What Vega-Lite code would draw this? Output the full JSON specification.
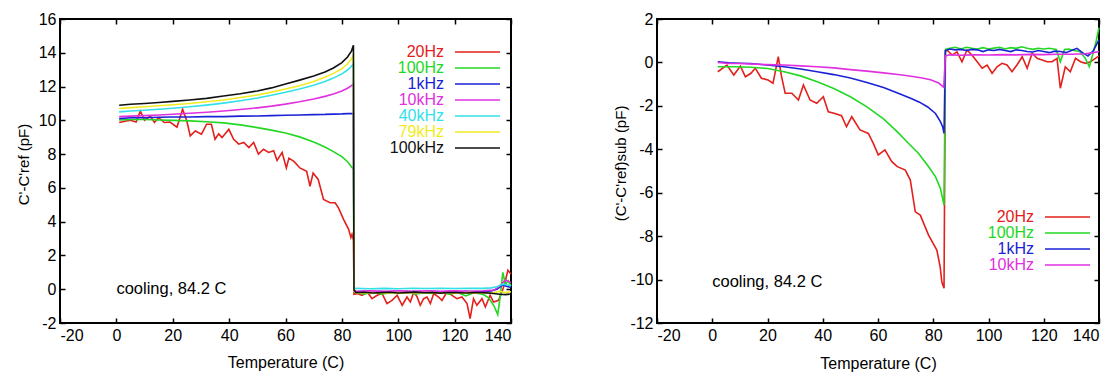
{
"$schema": "https://vega.github.io/schema/vega-lite/v6.json",
"background": "white",
"padding": {"left": 15, "top": 10, "right": 0, "bottom": 0},
"config": {
  "font": "Liberation Sans",
  "view": {"stroke": "black", "strokeWidth": 2},
  "axis": {"grid": false, "domain": false, "tickSize": -5, "tickColor": "black", "tickWidth": 1.5, "labelFont": "Liberation Sans", "labelFontSize": 16, "labelColor": "black", "labelPadding": 9, "labelExpr": "'' + datum.value", "titleFont": "Liberation Sans", "titleFontSize": 16, "titleFontWeight": "normal", "titleColor": "black"},
  "legend": {"orient": "none", "title": null, "symbolType": "M-10,0H10", "symbolSize": 20.25, "symbolStrokeWidth": 1.6, "labelFont": "Liberation Sans", "labelFontSize": 16, "rowPadding": 0, "padding": 0}
},
"datasets": {
"left": [
{"s":"20Hz","T":1,"v":9.87},{"s":"20Hz","T":3,"v":9.95},{"s":"20Hz","T":5,"v":10.0},{"s":"20Hz","T":7,"v":9.9},{"s":"20Hz","T":8.5,"v":10.55},{"s":"20Hz","T":10,"v":10.0},{"s":"20Hz","T":12,"v":10.26},{"s":"20Hz","T":13.5,"v":9.87},{"s":"20Hz","T":15,"v":10.16},{"s":"20Hz","T":17,"v":9.87},{"s":"20Hz","T":19,"v":9.9},{"s":"20Hz","T":21.5,"v":9.6},{"s":"20Hz","T":23.5,"v":10.65},{"s":"20Hz","T":25,"v":9.96},{"s":"20Hz","T":26.2,"v":9.08},{"s":"20Hz","T":28,"v":9.37},{"s":"20Hz","T":30.2,"v":9.18},{"s":"20Hz","T":32,"v":9.77},{"s":"20Hz","T":33.7,"v":9.77},{"s":"20Hz","T":35,"v":8.88},{"s":"20Hz","T":36.3,"v":9.2},{"s":"20Hz","T":37.5,"v":8.98},{"s":"20Hz","T":39.9,"v":9.47},{"s":"20Hz","T":41.6,"v":8.88},{"s":"20Hz","T":43.4,"v":8.59},{"s":"20Hz","T":45.2,"v":8.69},{"s":"20Hz","T":47,"v":8.39},{"s":"20Hz","T":48.7,"v":8.69},{"s":"20Hz","T":50.4,"v":8.0},{"s":"20Hz","T":52.2,"v":8.29},{"s":"20Hz","T":54,"v":8.1},{"s":"20Hz","T":55.8,"v":8.2},{"s":"20Hz","T":57,"v":7.62},{"s":"20Hz","T":58.8,"v":8.1},{"s":"20Hz","T":60.3,"v":7.18},{"s":"20Hz","T":61.2,"v":7.76},{"s":"20Hz","T":63,"v":7.57},{"s":"20Hz","T":65.1,"v":7.18},{"s":"20Hz","T":67.5,"v":6.98},{"s":"20Hz","T":68.7,"v":6.1},{"s":"20Hz","T":69.8,"v":6.88},{"s":"20Hz","T":71.6,"v":6.5},{"s":"20Hz","T":73.5,"v":5.31},{"s":"20Hz","T":75.8,"v":5.12},{"s":"20Hz","T":77.6,"v":5.12},{"s":"20Hz","T":78.8,"v":4.82},{"s":"20Hz","T":80.6,"v":4.14},{"s":"20Hz","T":82.4,"v":3.55},{"s":"20Hz","T":83.2,"v":3.06},{"s":"20Hz","T":83.6,"v":3.25},{"s":"20Hz","T":84.1,"v":2.9},{"s":"20Hz","T":84.3,"v":-0.3},{"s":"20Hz","T":85.4,"v":-0.26},{"s":"20Hz","T":87.2,"v":-0.36},{"s":"20Hz","T":89,"v":-0.16},{"s":"20Hz","T":90.7,"v":-0.56},{"s":"20Hz","T":92.5,"v":-0.36},{"s":"20Hz","T":94.3,"v":-0.26},{"s":"20Hz","T":96,"v":-0.85},{"s":"20Hz","T":97.8,"v":-0.66},{"s":"20Hz","T":99.6,"v":-0.36},{"s":"20Hz","T":101.4,"v":-0.95},{"s":"20Hz","T":103.1,"v":-0.46},{"s":"20Hz","T":104.3,"v":-0.76},{"s":"20Hz","T":105.5,"v":-0.16},{"s":"20Hz","T":106.7,"v":-0.46},{"s":"20Hz","T":107.8,"v":-0.95},{"s":"20Hz","T":109,"v":-0.56},{"s":"20Hz","T":110.2,"v":-0.46},{"s":"20Hz","T":111.4,"v":-0.85},{"s":"20Hz","T":112.6,"v":-0.26},{"s":"20Hz","T":114.3,"v":-0.46},{"s":"20Hz","T":115.5,"v":-0.66},{"s":"20Hz","T":117.3,"v":-0.16},{"s":"20Hz","T":119.1,"v":-0.36},{"s":"20Hz","T":120.8,"v":-0.56},{"s":"20Hz","T":122.6,"v":-0.46},{"s":"20Hz","T":124.4,"v":-0.85},{"s":"20Hz","T":125.5,"v":-1.74},{"s":"20Hz","T":126.7,"v":-0.56},{"s":"20Hz","T":127.9,"v":-0.95},{"s":"20Hz","T":129.7,"v":-0.56},{"s":"20Hz","T":130.9,"v":-1.05},{"s":"20Hz","T":132.6,"v":-0.36},{"s":"20Hz","T":133.8,"v":-0.76},{"s":"20Hz","T":135.6,"v":-0.66},{"s":"20Hz","T":136.8,"v":-0.16},{"s":"20Hz","T":137.9,"v":0.43},{"s":"20Hz","T":138.9,"v":1.12},{"s":"20Hz","T":140,"v":0.9},
{"s":"100Hz","T":1,"v":10.02},{"s":"100Hz","T":5,"v":10.05},{"s":"100Hz","T":10,"v":10.05},{"s":"100Hz","T":15,"v":10.02},{"s":"100Hz","T":20,"v":10.0},{"s":"100Hz","T":26,"v":9.97},{"s":"100Hz","T":32,"v":9.92},{"s":"100Hz","T":38,"v":9.85},{"s":"100Hz","T":44,"v":9.73},{"s":"100Hz","T":50,"v":9.57},{"s":"100Hz","T":55,"v":9.42},{"s":"100Hz","T":60,"v":9.25},{"s":"100Hz","T":65,"v":9.02},{"s":"100Hz","T":70,"v":8.72},{"s":"100Hz","T":74,"v":8.42},{"s":"100Hz","T":77,"v":8.15},{"s":"100Hz","T":80,"v":7.85},{"s":"100Hz","T":82,"v":7.55},{"s":"100Hz","T":83.4,"v":7.25},{"s":"100Hz","T":84.1,"v":7.1},{"s":"100Hz","T":84.3,"v":-0.1},{"s":"100Hz","T":85,"v":-0.2},{"s":"100Hz","T":88,"v":-0.3},{"s":"100Hz","T":91,"v":-0.15},{"s":"100Hz","T":94,"v":-0.3},{"s":"100Hz","T":97,"v":-0.2},{"s":"100Hz","T":100,"v":-0.25},{"s":"100Hz","T":103,"v":-0.1},{"s":"100Hz","T":106,"v":-0.3},{"s":"100Hz","T":109,"v":-0.2},{"s":"100Hz","T":112,"v":-0.25},{"s":"100Hz","T":115,"v":-0.15},{"s":"100Hz","T":118,"v":-0.3},{"s":"100Hz","T":121,"v":-0.2},{"s":"100Hz","T":124,"v":-0.4},{"s":"100Hz","T":127,"v":-0.2},{"s":"100Hz","T":130,"v":-0.3},{"s":"100Hz","T":132,"v":-0.5},{"s":"100Hz","T":134,"v":-1.0},{"s":"100Hz","T":135.3,"v":-1.5},{"s":"100Hz","T":136.2,"v":-0.4},{"s":"100Hz","T":137.1,"v":1.0},{"s":"100Hz","T":138,"v":0.3},{"s":"100Hz","T":139,"v":0.5},{"s":"100Hz","T":140,"v":0.2},
{"s":"1kHz","T":1,"v":10.1},{"s":"1kHz","T":5,"v":10.15},{"s":"1kHz","T":10,"v":10.15},{"s":"1kHz","T":15,"v":10.18},{"s":"1kHz","T":20,"v":10.2},{"s":"1kHz","T":26,"v":10.2},{"s":"1kHz","T":32,"v":10.22},{"s":"1kHz","T":38,"v":10.22},{"s":"1kHz","T":44,"v":10.25},{"s":"1kHz","T":50,"v":10.26},{"s":"1kHz","T":55,"v":10.28},{"s":"1kHz","T":60,"v":10.3},{"s":"1kHz","T":65,"v":10.32},{"s":"1kHz","T":70,"v":10.34},{"s":"1kHz","T":74,"v":10.35},{"s":"1kHz","T":77,"v":10.37},{"s":"1kHz","T":80,"v":10.38},{"s":"1kHz","T":82,"v":10.4},{"s":"1kHz","T":84.1,"v":10.4},{"s":"1kHz","T":84.3,"v":-0.1},{"s":"1kHz","T":85,"v":-0.15},{"s":"1kHz","T":88,"v":-0.12},{"s":"1kHz","T":91,"v":-0.16},{"s":"1kHz","T":94,"v":-0.14},{"s":"1kHz","T":97,"v":-0.15},{"s":"1kHz","T":100,"v":-0.13},{"s":"1kHz","T":103,"v":-0.16},{"s":"1kHz","T":106,"v":-0.14},{"s":"1kHz","T":109,"v":-0.15},{"s":"1kHz","T":112,"v":-0.12},{"s":"1kHz","T":115,"v":-0.15},{"s":"1kHz","T":118,"v":-0.14},{"s":"1kHz","T":121,"v":-0.16},{"s":"1kHz","T":124,"v":-0.13},{"s":"1kHz","T":127,"v":-0.15},{"s":"1kHz","T":130,"v":-0.14},{"s":"1kHz","T":133,"v":-0.1},{"s":"1kHz","T":135,"v":0.0},{"s":"1kHz","T":137,"v":0.25},{"s":"1kHz","T":139,"v":0.15},{"s":"1kHz","T":140,"v":0.1},
{"s":"10kHz","T":1,"v":10.22},{"s":"10kHz","T":5,"v":10.25},{"s":"10kHz","T":10,"v":10.28},{"s":"10kHz","T":15,"v":10.32},{"s":"10kHz","T":20,"v":10.36},{"s":"10kHz","T":26,"v":10.42},{"s":"10kHz","T":32,"v":10.48},{"s":"10kHz","T":38,"v":10.55},{"s":"10kHz","T":44,"v":10.64},{"s":"10kHz","T":50,"v":10.74},{"s":"10kHz","T":55,"v":10.84},{"s":"10kHz","T":60,"v":10.96},{"s":"10kHz","T":65,"v":11.1},{"s":"10kHz","T":70,"v":11.26},{"s":"10kHz","T":74,"v":11.42},{"s":"10kHz","T":77,"v":11.56},{"s":"10kHz","T":80,"v":11.74},{"s":"10kHz","T":82,"v":11.9},{"s":"10kHz","T":83.4,"v":12.05},{"s":"10kHz","T":84.1,"v":12.15},{"s":"10kHz","T":84.3,"v":-0.1},{"s":"10kHz","T":85,"v":-0.12},{"s":"10kHz","T":90,"v":-0.1},{"s":"10kHz","T":95,"v":-0.12},{"s":"10kHz","T":100,"v":-0.1},{"s":"10kHz","T":105,"v":-0.12},{"s":"10kHz","T":110,"v":-0.1},{"s":"10kHz","T":115,"v":-0.12},{"s":"10kHz","T":120,"v":-0.1},{"s":"10kHz","T":125,"v":-0.12},{"s":"10kHz","T":130,"v":-0.1},{"s":"10kHz","T":134,"v":-0.05},{"s":"10kHz","T":136,"v":0.2},{"s":"10kHz","T":138,"v":0.55},{"s":"10kHz","T":140,"v":0.4},
{"s":"40kHz","T":1,"v":10.5},{"s":"40kHz","T":5,"v":10.55},{"s":"40kHz","T":10,"v":10.6},{"s":"40kHz","T":15,"v":10.66},{"s":"40kHz","T":20,"v":10.72},{"s":"40kHz","T":26,"v":10.8},{"s":"40kHz","T":32,"v":10.9},{"s":"40kHz","T":38,"v":11.02},{"s":"40kHz","T":44,"v":11.16},{"s":"40kHz","T":50,"v":11.32},{"s":"40kHz","T":55,"v":11.48},{"s":"40kHz","T":60,"v":11.66},{"s":"40kHz","T":65,"v":11.86},{"s":"40kHz","T":70,"v":12.08},{"s":"40kHz","T":74,"v":12.3},{"s":"40kHz","T":77,"v":12.5},{"s":"40kHz","T":80,"v":12.75},{"s":"40kHz","T":82,"v":12.98},{"s":"40kHz","T":83.4,"v":13.2},{"s":"40kHz","T":84.1,"v":13.35},{"s":"40kHz","T":84.3,"v":0.0},{"s":"40kHz","T":85,"v":0.05},{"s":"40kHz","T":90,"v":0.03},{"s":"40kHz","T":95,"v":0.05},{"s":"40kHz","T":100,"v":0.03},{"s":"40kHz","T":105,"v":0.06},{"s":"40kHz","T":110,"v":0.04},{"s":"40kHz","T":115,"v":0.05},{"s":"40kHz","T":120,"v":0.04},{"s":"40kHz","T":125,"v":0.06},{"s":"40kHz","T":130,"v":0.05},{"s":"40kHz","T":133,"v":0.08},{"s":"40kHz","T":135,"v":0.15},{"s":"40kHz","T":137,"v":0.3},{"s":"40kHz","T":139,"v":0.25},{"s":"40kHz","T":140,"v":0.2},
{"s":"79kHz","T":1,"v":10.7},{"s":"79kHz","T":5,"v":10.75},{"s":"79kHz","T":10,"v":10.8},{"s":"79kHz","T":15,"v":10.86},{"s":"79kHz","T":20,"v":10.92},{"s":"79kHz","T":26,"v":11.0},{"s":"79kHz","T":32,"v":11.1},{"s":"79kHz","T":38,"v":11.2},{"s":"79kHz","T":44,"v":11.35},{"s":"79kHz","T":50,"v":11.5},{"s":"79kHz","T":55,"v":11.67},{"s":"79kHz","T":60,"v":11.85},{"s":"79kHz","T":65,"v":12.05},{"s":"79kHz","T":70,"v":12.3},{"s":"79kHz","T":74,"v":12.55},{"s":"79kHz","T":77,"v":12.78},{"s":"79kHz","T":80,"v":13.05},{"s":"79kHz","T":82,"v":13.35},{"s":"79kHz","T":83.4,"v":13.65},{"s":"79kHz","T":84.1,"v":13.85},{"s":"79kHz","T":84.3,"v":-0.1},{"s":"79kHz","T":85,"v":-0.22},{"s":"79kHz","T":90,"v":-0.2},{"s":"79kHz","T":95,"v":-0.22},{"s":"79kHz","T":100,"v":-0.2},{"s":"79kHz","T":105,"v":-0.22},{"s":"79kHz","T":110,"v":-0.2},{"s":"79kHz","T":115,"v":-0.21},{"s":"79kHz","T":120,"v":-0.22},{"s":"79kHz","T":125,"v":-0.2},{"s":"79kHz","T":130,"v":-0.22},{"s":"79kHz","T":134,"v":-0.2},{"s":"79kHz","T":136,"v":-0.12},{"s":"79kHz","T":138,"v":-0.2},{"s":"79kHz","T":140,"v":-0.15},
{"s":"100kHz","T":1,"v":10.89},{"s":"100kHz","T":5,"v":10.95},{"s":"100kHz","T":10,"v":11.0},{"s":"100kHz","T":15,"v":11.06},{"s":"100kHz","T":20,"v":11.12},{"s":"100kHz","T":26,"v":11.2},{"s":"100kHz","T":32,"v":11.3},{"s":"100kHz","T":38,"v":11.44},{"s":"100kHz","T":44,"v":11.57},{"s":"100kHz","T":50,"v":11.74},{"s":"100kHz","T":55,"v":11.92},{"s":"100kHz","T":60,"v":12.15},{"s":"100kHz","T":65,"v":12.38},{"s":"100kHz","T":70,"v":12.62},{"s":"100kHz","T":74,"v":12.86},{"s":"100kHz","T":77,"v":13.1},{"s":"100kHz","T":80,"v":13.42},{"s":"100kHz","T":82,"v":13.75},{"s":"100kHz","T":83.4,"v":14.1},{"s":"100kHz","T":84.1,"v":14.45},{"s":"100kHz","T":84.3,"v":-0.05},{"s":"100kHz","T":85,"v":-0.2},{"s":"100kHz","T":88,"v":-0.18},{"s":"100kHz","T":91,"v":-0.22},{"s":"100kHz","T":94,"v":-0.2},{"s":"100kHz","T":97,"v":-0.18},{"s":"100kHz","T":100,"v":-0.22},{"s":"100kHz","T":103,"v":-0.2},{"s":"100kHz","T":106,"v":-0.17},{"s":"100kHz","T":109,"v":-0.21},{"s":"100kHz","T":112,"v":-0.2},{"s":"100kHz","T":115,"v":-0.23},{"s":"100kHz","T":118,"v":-0.19},{"s":"100kHz","T":121,"v":-0.2},{"s":"100kHz","T":124,"v":-0.22},{"s":"100kHz","T":127,"v":-0.2},{"s":"100kHz","T":130,"v":-0.2},{"s":"100kHz","T":133,"v":-0.24},{"s":"100kHz","T":136,"v":-0.3},{"s":"100kHz","T":138,"v":-0.32},{"s":"100kHz","T":140,"v":-0.28}
],
"right": [
{"s":"20Hz","T":2,"v":-0.43},{"s":"20Hz","T":5.3,"v":-0.12},{"s":"20Hz","T":7.8,"v":-0.58},{"s":"20Hz","T":10.2,"v":-0.17},{"s":"20Hz","T":12,"v":-0.66},{"s":"20Hz","T":14,"v":-0.5},{"s":"20Hz","T":15.6,"v":-0.27},{"s":"20Hz","T":17.8,"v":-0.73},{"s":"20Hz","T":20.2,"v":-0.81},{"s":"20Hz","T":22,"v":-0.96},{"s":"20Hz","T":23.9,"v":0.27},{"s":"20Hz","T":25,"v":-0.6},{"s":"20Hz","T":26.4,"v":-1.42},{"s":"20Hz","T":28.8,"v":-1.42},{"s":"20Hz","T":31.2,"v":-1.73},{"s":"20Hz","T":33,"v":-1.04},{"s":"20Hz","T":35.4,"v":-1.73},{"s":"20Hz","T":37.8,"v":-1.88},{"s":"20Hz","T":40.2,"v":-1.58},{"s":"20Hz","T":42,"v":-2.27},{"s":"20Hz","T":44.4,"v":-2.35},{"s":"20Hz","T":46.8,"v":-2.45},{"s":"20Hz","T":48.6,"v":-2.96},{"s":"20Hz","T":50.5,"v":-2.5},{"s":"20Hz","T":53.5,"v":-3.11},{"s":"20Hz","T":56.5,"v":-3.27},{"s":"20Hz","T":58.3,"v":-3.73},{"s":"20Hz","T":60.1,"v":-4.26},{"s":"20Hz","T":62.5,"v":-4.03},{"s":"20Hz","T":65,"v":-4.57},{"s":"20Hz","T":67,"v":-4.8},{"s":"20Hz","T":69.9,"v":-4.96},{"s":"20Hz","T":71.7,"v":-5.42},{"s":"20Hz","T":73.5,"v":-6.88},{"s":"20Hz","T":75.3,"v":-7.03},{"s":"20Hz","T":78.3,"v":-7.95},{"s":"20Hz","T":81.3,"v":-8.64},{"s":"20Hz","T":82.5,"v":-9.41},{"s":"20Hz","T":83.1,"v":-10.1},{"s":"20Hz","T":83.9,"v":-10.4},{"s":"20Hz","T":84.4,"v":0.5},{"s":"20Hz","T":85,"v":0.57},{"s":"20Hz","T":86.8,"v":0.34},{"s":"20Hz","T":88.6,"v":0.49},{"s":"20Hz","T":90.4,"v":0.03},{"s":"20Hz","T":92.2,"v":0.57},{"s":"20Hz","T":94,"v":0.34},{"s":"20Hz","T":95.9,"v":0.03},{"s":"20Hz","T":97.7,"v":-0.27},{"s":"20Hz","T":99.5,"v":-0.12},{"s":"20Hz","T":101.3,"v":-0.5},{"s":"20Hz","T":103.1,"v":-0.2},{"s":"20Hz","T":104.9,"v":-0.04},{"s":"20Hz","T":106.7,"v":-0.12},{"s":"20Hz","T":108.5,"v":-0.43},{"s":"20Hz","T":110.3,"v":-0.12},{"s":"20Hz","T":112.2,"v":0.26},{"s":"20Hz","T":114,"v":-0.27},{"s":"20Hz","T":115.8,"v":0.42},{"s":"20Hz","T":117.6,"v":0.19},{"s":"20Hz","T":119.4,"v":0.11},{"s":"20Hz","T":121.2,"v":0.03},{"s":"20Hz","T":123,"v":0.03},{"s":"20Hz","T":124.8,"v":0.19},{"s":"20Hz","T":126,"v":-1.19},{"s":"20Hz","T":127.8,"v":-0.2},{"s":"20Hz","T":129.6,"v":-0.43},{"s":"20Hz","T":131.5,"v":0.19},{"s":"20Hz","T":133.3,"v":0.03},{"s":"20Hz","T":135.1,"v":-0.04},{"s":"20Hz","T":136.9,"v":0.03},{"s":"20Hz","T":138.7,"v":0.19},{"s":"20Hz","T":140,"v":0.3},
{"s":"100Hz","T":2,"v":-0.2},{"s":"100Hz","T":8,"v":-0.2},{"s":"100Hz","T":14,"v":-0.22},{"s":"100Hz","T":20,"v":-0.28},{"s":"100Hz","T":26,"v":-0.43},{"s":"100Hz","T":32,"v":-0.62},{"s":"100Hz","T":38,"v":-0.89},{"s":"100Hz","T":44,"v":-1.2},{"s":"100Hz","T":50,"v":-1.58},{"s":"100Hz","T":56,"v":-2.05},{"s":"100Hz","T":62,"v":-2.6},{"s":"100Hz","T":67,"v":-3.2},{"s":"100Hz","T":71,"v":-3.72},{"s":"100Hz","T":74.7,"v":-4.19},{"s":"100Hz","T":78,"v":-4.75},{"s":"100Hz","T":80.8,"v":-5.26},{"s":"100Hz","T":82.6,"v":-5.8},{"s":"100Hz","T":83.9,"v":-6.57},{"s":"100Hz","T":84.4,"v":0.6},{"s":"100Hz","T":86,"v":0.65},{"s":"100Hz","T":88,"v":0.7},{"s":"100Hz","T":90,"v":0.62},{"s":"100Hz","T":92,"v":0.7},{"s":"100Hz","T":94,"v":0.65},{"s":"100Hz","T":96,"v":0.62},{"s":"100Hz","T":98,"v":0.68},{"s":"100Hz","T":100,"v":0.62},{"s":"100Hz","T":102,"v":0.66},{"s":"100Hz","T":104,"v":0.7},{"s":"100Hz","T":106,"v":0.62},{"s":"100Hz","T":108,"v":0.68},{"s":"100Hz","T":110,"v":0.65},{"s":"100Hz","T":112,"v":0.72},{"s":"100Hz","T":114,"v":0.65},{"s":"100Hz","T":116,"v":0.6},{"s":"100Hz","T":118,"v":0.65},{"s":"100Hz","T":120,"v":0.62},{"s":"100Hz","T":122,"v":0.65},{"s":"100Hz","T":124.5,"v":0.6},{"s":"100Hz","T":126,"v":0.03},{"s":"100Hz","T":127.5,"v":0.6},{"s":"100Hz","T":129,"v":0.62},{"s":"100Hz","T":131,"v":0.55},{"s":"100Hz","T":133,"v":0.5},{"s":"100Hz","T":135,"v":0.2},{"s":"100Hz","T":136.5,"v":-0.2},{"s":"100Hz","T":138,"v":0.5},{"s":"100Hz","T":139,"v":1.0},{"s":"100Hz","T":140,"v":1.6},
{"s":"1kHz","T":2,"v":0.03},{"s":"1kHz","T":6,"v":-0.02},{"s":"1kHz","T":10,"v":-0.04},{"s":"1kHz","T":14,"v":-0.05},{"s":"1kHz","T":20,"v":-0.12},{"s":"1kHz","T":26,"v":-0.2},{"s":"1kHz","T":32,"v":-0.3},{"s":"1kHz","T":38,"v":-0.43},{"s":"1kHz","T":44,"v":-0.56},{"s":"1kHz","T":50,"v":-0.72},{"s":"1kHz","T":56,"v":-0.92},{"s":"1kHz","T":62,"v":-1.15},{"s":"1kHz","T":68,"v":-1.45},{"s":"1kHz","T":72,"v":-1.66},{"s":"1kHz","T":75,"v":-1.83},{"s":"1kHz","T":78,"v":-2.05},{"s":"1kHz","T":80.8,"v":-2.35},{"s":"1kHz","T":82.5,"v":-2.7},{"s":"1kHz","T":83.4,"v":-2.96},{"s":"1kHz","T":83.9,"v":-3.27},{"s":"1kHz","T":84.4,"v":0.55},{"s":"1kHz","T":86,"v":0.62},{"s":"1kHz","T":88,"v":0.58},{"s":"1kHz","T":90,"v":0.6},{"s":"1kHz","T":92,"v":0.55},{"s":"1kHz","T":94,"v":0.6},{"s":"1kHz","T":96,"v":0.58},{"s":"1kHz","T":98,"v":0.5},{"s":"1kHz","T":100,"v":0.58},{"s":"1kHz","T":102,"v":0.55},{"s":"1kHz","T":104,"v":0.6},{"s":"1kHz","T":106,"v":0.55},{"s":"1kHz","T":108,"v":0.5},{"s":"1kHz","T":110,"v":0.58},{"s":"1kHz","T":112,"v":0.55},{"s":"1kHz","T":114,"v":0.5},{"s":"1kHz","T":116,"v":0.48},{"s":"1kHz","T":118,"v":0.55},{"s":"1kHz","T":120,"v":0.5},{"s":"1kHz","T":122,"v":0.45},{"s":"1kHz","T":124,"v":0.52},{"s":"1kHz","T":126,"v":0.5},{"s":"1kHz","T":128,"v":0.45},{"s":"1kHz","T":130,"v":0.55},{"s":"1kHz","T":132,"v":0.65},{"s":"1kHz","T":134,"v":0.45},{"s":"1kHz","T":136,"v":0.3},{"s":"1kHz","T":138,"v":0.55},{"s":"1kHz","T":140,"v":1.05},
{"s":"10kHz","T":2,"v":0.0},{"s":"10kHz","T":6,"v":-0.05},{"s":"10kHz","T":10,"v":-0.05},{"s":"10kHz","T":15,"v":-0.08},{"s":"10kHz","T":20,"v":-0.1},{"s":"10kHz","T":26,"v":-0.12},{"s":"10kHz","T":32,"v":-0.16},{"s":"10kHz","T":38,"v":-0.2},{"s":"10kHz","T":44,"v":-0.25},{"s":"10kHz","T":50,"v":-0.33},{"s":"10kHz","T":56,"v":-0.4},{"s":"10kHz","T":62,"v":-0.48},{"s":"10kHz","T":68,"v":-0.57},{"s":"10kHz","T":72,"v":-0.64},{"s":"10kHz","T":76,"v":-0.72},{"s":"10kHz","T":79,"v":-0.8},{"s":"10kHz","T":82,"v":-0.95},{"s":"10kHz","T":83.8,"v":-1.15},{"s":"10kHz","T":84.4,"v":0.3},{"s":"10kHz","T":86,"v":0.35},{"s":"10kHz","T":90,"v":0.33},{"s":"10kHz","T":95,"v":0.35},{"s":"10kHz","T":100,"v":0.34},{"s":"10kHz","T":105,"v":0.36},{"s":"10kHz","T":110,"v":0.35},{"s":"10kHz","T":115,"v":0.37},{"s":"10kHz","T":120,"v":0.36},{"s":"10kHz","T":125,"v":0.38},{"s":"10kHz","T":130,"v":0.38},{"s":"10kHz","T":135,"v":0.4},{"s":"10kHz","T":138,"v":0.45},{"s":"10kHz","T":140,"v":0.5}
]
},
"spacing": 146,
"bounds": "flush",
"resolve": {"scale": {"color": "independent"}, "legend": {"color": "independent"}},
"hconcat": [
{
  "width": 451, "height": 304,
  "data": {"name": "left"},
  "layer": [
    {
      "mark": {"type": "line", "strokeWidth": 1.6},
      "encoding": {
        "x": {"field": "T", "type": "quantitative", "scale": {"domain": [-20, 140], "nice": false}, "axis": {"values": [-20, 0, 20, 40, 60, 80, 100, 120, 140], "title": "Temperature (C)", "titleY": 39, "titleBaseline": "middle"}},
        "y": {"field": "v", "type": "quantitative", "scale": {"domain": [-2, 16], "nice": false, "zero": false}, "axis": {"values": [-2, 0, 2, 4, 6, 8, 10, 12, 14, 16], "title": "C'-C'ref (pF)", "titleFontSize": 15, "titleX": -37, "titleY": 145, "titleAngle": 270, "titleBaseline": "middle", "titleAlign": "center"}},
        "color": {"field": "s", "type": "nominal", "scale": {"domain": ["20Hz", "100Hz", "1kHz", "10kHz", "40kHz", "79kHz", "100kHz"], "range": ["#e3201b", "#22d822", "#1a22d6", "#e030e0", "#33e0e8", "#f0ec20", "#111111"]},
          "legend": {"legendX": 324, "legendY": 25, "encode": {
            "labels": {"update": {"x": {"value": 60}, "align": {"value": "right"}, "fill": {"signal": "datum.label == '20Hz' ? '#e3201b' : datum.label == '100Hz' ? '#22d822' : datum.label == '1kHz' ? '#1a22d6' : datum.label == '10kHz' ? '#e030e0' : datum.label == '40kHz' ? '#33e0e8' : datum.label == '79kHz' ? '#f0ec20' : '#111111'"}}},
            "symbols": {"update": {"x": {"value": 93.5}}}}}}
      }
    },
    {
      "data": {"values": [{"T": 0, "v": 0, "label": "cooling, 84.2 C"}]},
      "mark": {"type": "text", "align": "left", "baseline": "middle", "fontSize": 16.5, "font": "Liberation Sans", "color": "black"},
      "encoding": {
        "x": {"field": "T", "type": "quantitative", "axis": {"orient": "top", "labels": false, "title": null, "values": [-20, 0, 20, 40, 60, 80, 100, 120, 140]}},
        "y": {"field": "v", "type": "quantitative", "axis": {"orient": "right", "labels": false, "title": null, "values": [-2, 0, 2, 4, 6, 8, 10, 12, 14, 16]}},
        "text": {"field": "label"}
      }
    }
  ],
  "resolve": {"axis": {"x": "independent", "y": "independent"}}
},
{
  "width": 442, "height": 304,
  "data": {"name": "right"},
  "layer": [
    {
      "mark": {"type": "line", "strokeWidth": 1.6},
      "encoding": {
        "x": {"field": "T", "type": "quantitative", "scale": {"domain": [-20, 140], "nice": false}, "axis": {"values": [-20, 0, 20, 40, 60, 80, 100, 120, 140], "title": "Temperature (C)", "titleY": 40, "titleBaseline": "middle"}},
        "y": {"field": "v", "type": "quantitative", "scale": {"domain": [-12, 2], "nice": false, "zero": false}, "axis": {"values": [-12, -10, -8, -6, -4, -2, 0, 2], "title": "(C'-C'ref)sub (pF)", "titleFontSize": 15, "titleX": -37, "titleY": 144, "titleAngle": 270, "titleBaseline": "middle", "titleAlign": "center"}},
        "color": {"field": "s", "type": "nominal", "scale": {"domain": ["20Hz", "100Hz", "1kHz", "10kHz"], "range": ["#e3201b", "#22d822", "#1a22d6", "#e030e0"]},
          "legend": {"legendX": 317, "legendY": 190, "encode": {
            "labels": {"update": {"x": {"value": 60}, "align": {"value": "right"}, "fill": {"signal": "datum.label == '20Hz' ? '#e3201b' : datum.label == '100Hz' ? '#22d822' : datum.label == '1kHz' ? '#1a22d6' : '#e030e0'"}}},
            "symbols": {"update": {"x": {"value": 93.5}}}}}}
      }
    },
    {
      "data": {"values": [{"T": 0, "v": -10.1, "label": "cooling, 84.2 C"}]},
      "mark": {"type": "text", "align": "left", "baseline": "middle", "fontSize": 16.5, "font": "Liberation Sans", "color": "black"},
      "encoding": {
        "x": {"field": "T", "type": "quantitative", "axis": {"orient": "top", "labels": false, "title": null, "values": [-20, 0, 20, 40, 60, 80, 100, 120, 140]}},
        "y": {"field": "v", "type": "quantitative", "axis": {"orient": "right", "labels": false, "title": null, "values": [-12, -10, -8, -6, -4, -2, 0, 2]}},
        "text": {"field": "label"}
      }
    }
  ],
  "resolve": {"axis": {"x": "independent", "y": "independent"}}
}
]
}
